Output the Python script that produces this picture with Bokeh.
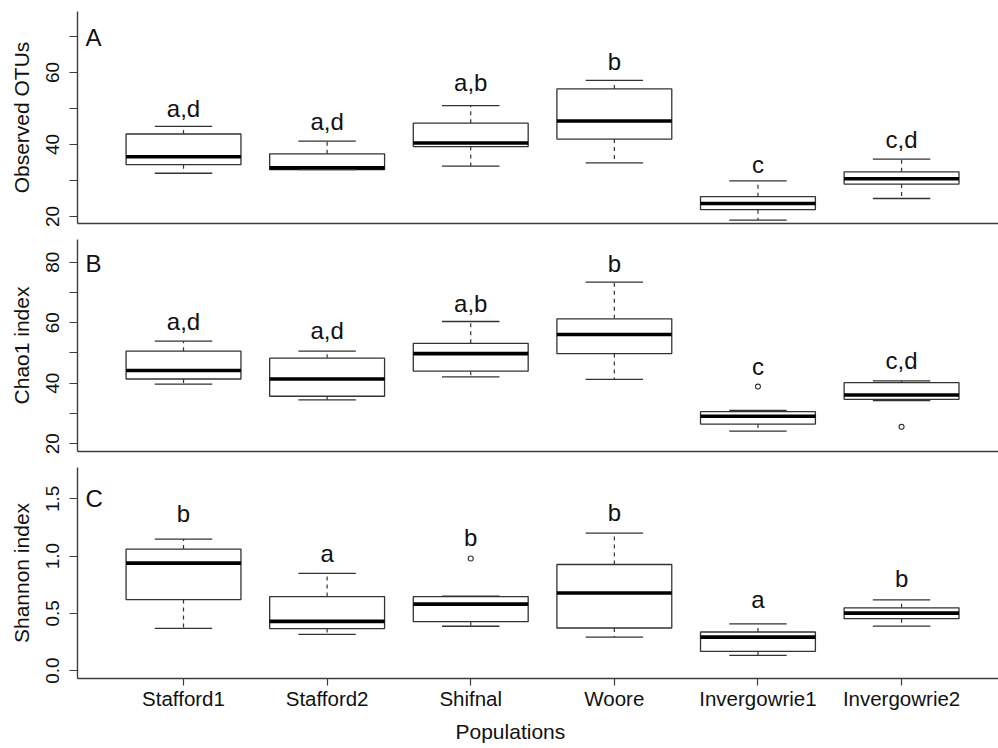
from bokeh.plotting import figure
from bokeh.layouts import column
from bokeh.models import FixedTicker, Range1d, Title, NumeralTickFormatter
from bokeh.core.properties import value
from bokeh.embed import file_html
from bokeh.resources import INLINE

FONT = "Liberation Sans"

populations = ["Stafford1", "Stafford2", "Shifnal", "Woore", "Invergowrie1", "Invergowrie2"]

# Panel A: Observed OTUs (lower whisker, Q1, median, Q3, upper whisker)
otu_low = [32.0, 33.0, 34.0, 34.9, 19.0, 25.0]
otu_q1 = [34.4, 33.0, 39.4, 41.5, 21.9, 29.0]
otu_med = [36.6, 33.5, 40.4, 46.5, 23.6, 30.5]
otu_q3 = [42.9, 37.4, 45.9, 55.4, 25.5, 32.4]
otu_high = [45.0, 40.9, 50.8, 57.8, 29.9, 35.9]
otu_out_pop = []
otu_out = []
otu_letters = ["a,d", "a,d", "a,b", "b", "c", "c,d"]
otu_letter_y = [47.6, 43.9, 54.8, 60.4, 32.0, 38.8]

# Panel B: Chao1 index
chao_low = [39.7, 34.5, 42.1, 41.3, 24.2, 34.3]
chao_q1 = [41.4, 35.7, 44.0, 49.8, 26.5, 34.7]
chao_med = [44.2, 41.4, 49.8, 56.1, 29.1, 36.1]
chao_q3 = [50.6, 48.3, 53.2, 61.3, 30.6, 40.2]
chao_high = [53.9, 50.6, 60.4, 73.4, 31.0, 40.8]
chao_out_pop = ["Invergowrie1", "Invergowrie2"]
chao_out = [38.9, 25.6]
chao_letters = ["a,d", "a,d", "a,b", "b", "c", "c,d"]
chao_letter_y = [57.5, 54.4, 63.5, 76.7, 42.6, 44.6]

# Panel C: Shannon index
shan_low = [0.369, 0.317, 0.387, 0.292, 0.133, 0.389]
shan_q1 = [0.620, 0.367, 0.427, 0.372, 0.168, 0.453]
shan_med = [0.938, 0.430, 0.580, 0.678, 0.292, 0.502]
shan_q3 = [1.061, 0.646, 0.646, 0.926, 0.337, 0.548]
shan_high = [1.148, 0.848, 0.649, 1.200, 0.407, 0.617]
shan_out_pop = ["Shifnal"]
shan_out = [0.978]
shan_letters = ["b", "a", "b", "b", "a", "b"]
shan_letter_y = [1.289, 0.946, 1.081, 1.298, 0.540, 0.727]

otu_ticks = [20, 30, 40, 50, 60, 70]
chao_ticks = [20, 30, 40, 50, 60, 70, 80]
shan_ticks = [0.0, 0.5, 1.0, 1.5]

AXIS_COLOR = "#3c3c3c"
BOX_COLOR = "#333333"

xs = [i + 1 for i in range(len(populations))]
pos = {p: i + 1 for i, p in enumerate(populations)}


def make_panel(low, q1, med, q3, high, out_pop, out, letters, letter_y,
               yr, ticks, label_every_other, ylabel, tag, tag_y,
               height, border_top, border_bottom, bottom_labels):
    p = figure(width=998, height=height, output_backend="svg", toolbar_location=None,
               title=None, x_range=Range1d(0.2618, 6.675), y_range=Range1d(*yr),
               min_border_left=77, min_border_right=0, min_border_top=border_top,
               min_border_bottom=border_bottom)
    p.grid.visible = False
    p.outline_line_color = None
    p.background_fill_color = "white"
    p.border_fill_color = "white"

    # whiskers (dashed)
    p.segment(x0=xs, y0=q3, x1=xs, y1=high, line_color=BOX_COLOR, line_width=1.2, line_dash="4 4")
    p.segment(x0=xs, y0=q1, x1=xs, y1=low, line_color=BOX_COLOR, line_width=1.2, line_dash="4 4")
    # boxes
    p.quad(left=[x - 0.4 for x in xs], right=[x + 0.4 for x in xs], bottom=q1, top=q3,
           fill_color="white", line_color=BOX_COLOR, line_width=1.3)
    # medians
    p.segment(x0=[x - 0.4 for x in xs], y0=med, x1=[x + 0.4 for x in xs], y1=med,
              line_color="black", line_width=3.6)
    # caps
    p.segment(x0=[x - 0.2 for x in xs], y0=high, x1=[x + 0.2 for x in xs], y1=high,
              line_color=BOX_COLOR, line_width=1.3)
    p.segment(x0=[x - 0.2 for x in xs], y0=low, x1=[x + 0.2 for x in xs], y1=low,
              line_color=BOX_COLOR, line_width=1.3)
    # outliers
    if out:
        p.scatter(x=[pos[o] for o in out_pop], y=out, marker="circle", size=5,
                  fill_color="white", line_color=BOX_COLOR, line_width=1.1)
    # significance letters
    p.text(x=xs, y=letter_y, text=letters, text_font=value(FONT), text_font_size="24px",
           text_align="center", text_baseline="alphabetic", text_color="#111111",
           y_offset=-9)
    # panel tag
    p.text(x=[0.318], y=[tag_y], text=[tag], text_font=value(FONT), text_font_size="24px",
           text_align="left", text_baseline="alphabetic", text_color="#111111",
           y_offset=-9)

    # y axis
    ya = p.yaxis[0]
    ya.ticker = FixedTicker(ticks=ticks)
    if label_every_other:
        ya.major_label_overrides = {t: "" for t in ticks if (t // 10) % 2 == 1}
    else:
        ya.formatter = NumeralTickFormatter(format="0.0")
    ya.minor_tick_line_color = None
    ya.major_tick_out = 8
    ya.major_tick_in = 0
    ya.axis_line_color = AXIS_COLOR
    ya.axis_line_width = 1.4
    ya.major_tick_line_color = AXIS_COLOR
    ya.major_tick_line_width = 1.2
    ya.major_label_orientation = "vertical"
    ya.major_label_text_font = FONT
    ya.major_label_text_font_size = "19px"
    ya.major_label_text_color = "#111111"
    ya.major_label_standoff = 10
    ya.axis_label = ylabel
    ya.axis_label_text_font = FONT
    ya.axis_label_text_font_size = "21px"
    ya.axis_label_text_font_style = "normal"
    ya.axis_label_text_color = "#111111"
    ya.axis_label_standoff = 11

    # x axis
    xa = p.xaxis[0]
    xa.axis_line_color = AXIS_COLOR
    xa.axis_line_width = 1.4
    xa.minor_tick_line_color = None
    xa.major_tick_in = 0
    if bottom_labels:
        xa.ticker = FixedTicker(ticks=xs)
        xa.major_label_overrides = {x: n for x, n in zip(xs, populations)}
        xa.major_tick_out = 7
        xa.major_tick_line_color = AXIS_COLOR
        xa.major_tick_line_width = 1.2
        xa.major_label_text_font = FONT
        xa.major_label_text_font_size = "20.5px"
        xa.major_label_text_color = "#111111"
        xa.major_label_standoff = 1
        p.add_layout(Title(text="Populations", align="left", offset=378,
                           text_font=FONT, text_font_size="21px", text_font_style="normal",
                           text_color="#111111", standoff=11), "below")
    else:
        xa.ticker = FixedTicker(ticks=[])
        xa.major_tick_out = 0
        xa.major_label_standoff = 0
        xa.major_label_text_font_size = "0px"
    return p


pA = make_panel(otu_low, otu_q1, otu_med, otu_q3, otu_high, otu_out_pop, otu_out,
                otu_letters, otu_letter_y, (18.06, 76.9), otu_ticks, True,
                "Observed OTUs", "A", 67.2, 231, 11, 8, False)
pB = make_panel(chao_low, chao_q1, chao_med, chao_q3, chao_high, chao_out_pop, chao_out,
                chao_letters, chao_letter_y, (17.45, 87.5), chao_ticks, True,
                "Chao1 index", "B", 76.7, 228, 8, 8, False)
pC = make_panel(shan_low, shan_q1, shan_med, shan_q3, shan_high, shan_out_pop, shan_out,
                shan_letters, shan_letter_y, (-0.069, 1.773), shan_ticks, False,
                "Shannon index", "C", 1.422, 289, 8, 0, True)

layout = column(pA, pB, pC, spacing=0)
open("out.html", "w").write(file_html(layout, INLINE))
